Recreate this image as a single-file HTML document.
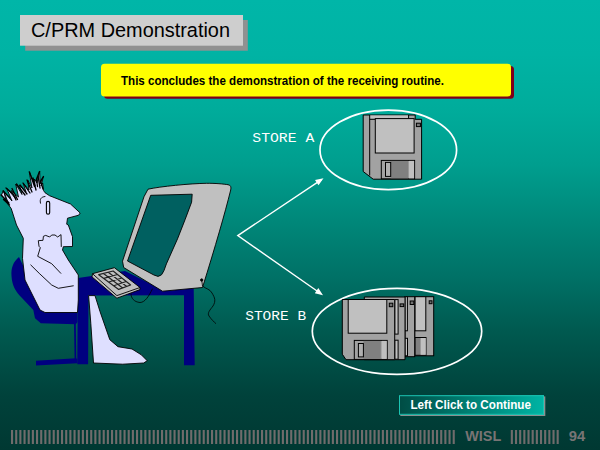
<!DOCTYPE html>
<html><head><meta charset="utf-8">
<style>
html,body{margin:0;padding:0;}
body{width:600px;height:450px;overflow:hidden;background:linear-gradient(to bottom,rgb(0,182,168) 0%,rgb(0,179,164) 12%,rgb(0,172,155) 24.4%,rgb(0,158,142) 36.7%,rgb(0,134,120) 50%,rgb(0,114,103) 61%,rgb(0,90,80) 73.3%,rgb(0,66,59) 87.8%,rgb(0,56,50) 100%);font-family:"Liberation Sans",sans-serif;position:relative;}
svg{position:absolute;left:0;top:0;}
text{font-family:"Liberation Sans",sans-serif;}
.mono{font-family:"Liberation Mono",monospace;}
</style></head><body>
<svg width="600" height="450" viewBox="0 0 600 450">
<defs>
<linearGradient id="btn" x1="0" y1="0" x2="1" y2="0"><stop offset="0" stop-color="#004c44"/><stop offset="1" stop-color="#00b4a4"/></linearGradient>
</defs>
<!-- title -->
<rect x="25.200" y="20" width="222.600" height="30.700" fill="#919191"/>
<rect x="20" y="15" width="223" height="30.700" fill="#cecece"/>
<text x="31" y="36.700" font-size="20.500" fill="#000" textLength="199" lengthAdjust="spacingAndGlyphs">C/PRM Demonstration</text>
<!-- yellow -->
<rect x="104" y="66.100" width="410" height="32.700" rx="3.500" fill="#800018"/>
<rect x="101" y="63.800" width="410" height="32.700" rx="3.500" fill="#ffff00"/>
<text x="121" y="85" font-size="12" font-weight="bold" fill="#000" textLength="323" lengthAdjust="spacingAndGlyphs">This concludes the demonstration of the receiving routine.</text>
<!-- labels -->
<text class="mono" x="252.300" y="141.500" font-size="11.900" fill="#fff" textLength="62" lengthAdjust="spacingAndGlyphs">STORE A</text>
<text class="mono" x="245.200" y="319.500" font-size="11.900" fill="#fff" textLength="61" lengthAdjust="spacingAndGlyphs">STORE B</text>
<!-- ellipses -->
<ellipse cx="388.300" cy="149.900" rx="68.300" ry="39.800" fill="none" stroke="#fff" stroke-width="1.700"/>
<ellipse cx="397" cy="331.300" rx="84.700" ry="43" fill="none" stroke="#fff" stroke-width="1.700"/>
<!-- arrows -->
<path d="M321.500 179.600 L237.800 235.600 L321 293.800" stroke="#fff" stroke-width="1.400" fill="none"/>
<path d="M323.500 178.300 L315 180 L318.500 185.300 Z M323 295.200 L314.800 293.200 L318.300 288 Z" fill="#fff"/>

<!-- floppy A -->
<g stroke="#000" stroke-width="1" stroke-linejoin="miter">
<path d="M363.200 115 H415.200 V119.300 H421.600 V179.200 H373.200 L363.200 171.500 Z" fill="#a2a2a2"/>
<rect x="369.700" y="115.400" width="38.600" height="3.300" fill="#c0c0c0" stroke="none"/>
<path d="M369.700 115 V175.500 M369.700 119.300 H375.300 M408.600 115 V118.500" fill="none"/>
<rect x="375.300" y="118.600" width="38.800" height="34.400" fill="#c0c0c0"/>
<rect x="416.400" y="123.200" width="4" height="3.400" fill="#787878"/>
<rect x="381.300" y="160.400" width="33.300" height="18.400" fill="#a2a2a2"/>
<rect x="390.500" y="160.900" width="17.800" height="17.400" fill="#808080" stroke="none"/>
<rect x="409" y="160.900" width="5.100" height="17.400" fill="#c0c0c0" stroke="none"/>
<rect x="385.500" y="162.400" width="5.200" height="14" fill="#b0b0b0"/>
</g>

<!-- floppies B -->
<g stroke="#000" stroke-width="1" stroke-linejoin="miter">
<!-- 4 -->
<rect x="414.700" y="296.700" width="19" height="59.100" fill="#a2a2a2"/>
<rect x="415" y="296.700" width="10.800" height="34.100" fill="#c0c0c0"/>
<rect x="429.200" y="300.800" width="2.800" height="2.900" fill="#707070"/>
<rect x="415" y="337.500" width="11" height="17.800" fill="#808080"/>
<rect x="420.600" y="338" width="5.200" height="16.800" fill="#c0c0c0" stroke="none"/>
<!-- 3 -->
<rect x="405" y="296.700" width="9.700" height="60" fill="#a2a2a2"/>
<rect x="405" y="296.700" width="2.400" height="34.100" fill="#c0c0c0"/>
<rect x="410.200" y="301" width="3.600" height="3.500" fill="#707070"/>
<rect x="405" y="338.300" width="2.500" height="17.500" fill="#c0c0c0"/>
<!-- 2 -->
<path d="M364.300 297 H405 V359.700 H364.300 Z" fill="#a2a2a2"/>
<rect x="394.800" y="299.600" width="3.300" height="34.500" fill="#c0c0c0"/>
<rect x="400.100" y="303.900" width="3.600" height="2.700" fill="#707070"/>
<rect x="394.800" y="340.200" width="3.300" height="19" fill="#c0c0c0"/>
<!-- 1 -->
<path d="M342.300 299.500 H394.700 V359.700 H346 L342.300 354.200 Z" fill="#a2a2a2"/>
<rect x="348.200" y="299.500" width="38.600" height="33.700" fill="#c0c0c0"/>
<rect x="389.300" y="303.200" width="3.500" height="3.500" fill="#707070"/>
<rect x="354.300" y="340.400" width="32.900" height="19" fill="#a2a2a2"/>
<rect x="363.400" y="340.900" width="17.400" height="18" fill="#808080" stroke="none"/>
<rect x="381.800" y="340.900" width="4.900" height="18" fill="#c0c0c0" stroke="none"/>
<rect x="358.400" y="343.500" width="5" height="13.400" fill="#b0b0b0"/>
</g>

<!-- chair -->
<g fill="#000080" stroke="none">
<path d="M19 257 C13 262 11 268 11.500 276 C12 286 16 292 22 298 L33.300 310 L35 318.300 L40.800 323.300 L75.800 324.300 L77.500 322 L77.500 312 L40 305 L30 280 Z"/>
<path d="M74 323.500 L75.800 323.500 L76.200 359 L74.600 359 Z"/>
<path d="M36 360.700 L76 358.200 L77.300 359 L77.300 363.200 L36 365.400 Z"/>
<!-- desk -->
<path d="M78 278 L95 275.500 L125 271 L165 291 L193.700 287.500 L194.700 365.200 L184 365.200 L184 295.300 L88.500 295.500 L88.100 364.200 L77.300 364.200 Z"/>
</g>

<!-- person -->
<g stroke="#000" stroke-width="0.900" stroke-linejoin="round" fill="#dedfff">
<!-- body+head -->
<path d="M1.500 195 L3.500 190.500 L6.700 202.500 L11.200 208.500 L16.500 225 L23.300 238.300 L22.500 258.300 L25 280 L35 300 L40 310 L45 312.500 L77.500 312.500 L78.300 300 L78.300 275 L68.300 260 L62.500 250 L63.300 246.700 L72.500 246.500 L72.500 236.700 L68.300 225 L66.700 224.200 L67.500 218.200 L78.700 215.200 L80.200 213 L70.500 204 L49.500 195.700 L45 192.700 L43.500 190.500 L42.700 183 L41 186 L43.500 176.200 L40 184 L39.700 171 L37 183 L34.500 179 L35 186 L29.200 171.700 L32 188 L27.700 180 L29 190 L23.200 183 L26 192 L19.500 185 L22 194.500 L15.700 184 L18.500 197 L11.200 190.500 L16 199 L6.700 188.200 L12 201 L3.700 191.200 L8.500 203.500 Z"/>
<!-- leg -->
<path d="M88.600 295.600 L95 295.600 L100 311.500 L109.800 339.700 L118 346.700 L132 349 L141.300 354.800 L147.200 360.700 L143.700 363 L122.700 364.200 L93.500 363 L90.800 323.300 Z"/>
</g>
<g stroke="#000" stroke-width="0.900" fill="none" stroke-linejoin="round" stroke-linecap="round">
<path d="M61.300 246.500 L61 234.600 L57.700 237 L55 235 L51.700 235 L49.700 237 L45.700 235.400 L43.400 236.300 L43 240.300 L38.300 240.700 L39 246.300 L40.300 247.700 L37.700 256.300 L51.700 263.700 L60.800 273.300"/>
<path d="M30.800 265 L39.200 273.300 L51.700 285 L58.300 288.300 L73.300 285.800"/>
<rect x="46.400" y="201.400" width="3.300" height="12.800" rx="1.650" stroke-width="1.100"/>
<path d="M40.500 203.200 C39.500 199 41 197 45 196.500"/>
</g>

<g stroke="#000" stroke-width="1.300" fill="none" stroke-linecap="round" stroke-linejoin="round">
<path d="M29.500 172 L34.500 186.500 M39.500 171.500 L36.500 179 L37.500 186.500 M43.500 176.500 L40.500 181 L43 189 M27 180 L32 192 M23 183 L30 193 M20 185 L27 194 M16.500 184 L25 195 M12 188.500 L17.500 199.500 M6 188 L13 194 L16 200 M3 191 L10 198 M1 195 L9 203 M3.500 199.500 L9.500 205 M33 178 L36 190 M38 176 L40 188"/>
</g>
<!-- monitor -->
<g stroke="#000" stroke-width="0.900" stroke-linejoin="round">
<path d="M148 189.200 C160 186.500 190 183.500 206.700 183.300 C215 183.200 224 184 228 184.700 C230.500 185 231.500 187 230.700 190 Q222 225 202.500 287.500 L162.500 291.200 L123.700 267.500 L122.500 261.200 L144 196.700 Z" fill="#c0c0c0"/>
<path d="M150.700 195.300 L192.200 194.200 L191.600 202.200 Q185.500 219 177.500 238.900 L166.400 263.900 L164 270.500 Q162 276.200 158 276.400 L153.900 275 L127.500 261 Z" fill="#006060"/>
<!-- keyboard -->
<path d="M92.500 273.700 L114.400 267.700 L140 287.500 L140 289.600 L116.900 298.200 L92 276.900 Z" fill="#c0c0c0"/>
<path d="M92.500 273.700 L116.900 295.600 L140 287.500" fill="none"/>
<path d="M98.700 274.700 L113.100 271 L130.600 285 L118.700 289.400 Z M103.700 278.400 L117.500 274.500 M108.700 282 L121.900 278 M113.700 285.700 L126.200 281.500 M103.500 273.500 L122.700 288 M108.300 272.200 L126.700 286.500" fill="none" stroke-width="1.200" stroke="#222"/>
</g>
<g stroke="#000" stroke-width="0.800" fill="none">
<path d="M131 293.700 C131 298 134 302 140 302.500 C145 302.500 149 296 152.500 288.700"/>
<path d="M201.700 280 L202.500 286 C206 289 210 289 212 293 C215 298 216 301 213 306 C210 310 207 313 209 316 C211 319 214 322 216 323.700"/>
<circle cx="201.700" cy="280" r="1.200" fill="#000"/>
</g>

<!-- button -->
<rect x="400.300" y="396.400" width="145" height="19.600" fill="#8a9090"/>
<rect x="399" y="395.200" width="145" height="19.600" fill="url(#btn)"/>
<rect x="399.500" y="395.700" width="144" height="18.600" fill="none" stroke="#1cc4b2" stroke-width="1"/>
<text x="410.400" y="408.800" font-size="12" font-weight="bold" fill="#fff" textLength="120.500" lengthAdjust="spacingAndGlyphs">Left Click to Continue</text>
<!-- bottom -->
<g fill="#706c6c"><rect x="11.00" y="430" width="2.1" height="14"/><rect x="15.17" y="430" width="2.1" height="14"/><rect x="19.33" y="430" width="2.1" height="14"/><rect x="23.50" y="430" width="2.1" height="14"/><rect x="27.67" y="430" width="2.1" height="14"/><rect x="31.83" y="430" width="2.1" height="14"/><rect x="36.00" y="430" width="2.1" height="14"/><rect x="40.17" y="430" width="2.1" height="14"/><rect x="44.33" y="430" width="2.1" height="14"/><rect x="48.50" y="430" width="2.1" height="14"/><rect x="52.67" y="430" width="2.1" height="14"/><rect x="56.83" y="430" width="2.1" height="14"/><rect x="61.00" y="430" width="2.1" height="14"/><rect x="65.17" y="430" width="2.1" height="14"/><rect x="69.33" y="430" width="2.1" height="14"/><rect x="73.50" y="430" width="2.1" height="14"/><rect x="77.67" y="430" width="2.1" height="14"/><rect x="81.83" y="430" width="2.1" height="14"/><rect x="86.00" y="430" width="2.1" height="14"/><rect x="90.17" y="430" width="2.1" height="14"/><rect x="94.33" y="430" width="2.1" height="14"/><rect x="98.50" y="430" width="2.1" height="14"/><rect x="102.67" y="430" width="2.1" height="14"/><rect x="106.83" y="430" width="2.1" height="14"/><rect x="111.00" y="430" width="2.1" height="14"/><rect x="115.17" y="430" width="2.1" height="14"/><rect x="119.33" y="430" width="2.1" height="14"/><rect x="123.50" y="430" width="2.1" height="14"/><rect x="127.67" y="430" width="2.1" height="14"/><rect x="131.83" y="430" width="2.1" height="14"/><rect x="136.00" y="430" width="2.1" height="14"/><rect x="140.17" y="430" width="2.1" height="14"/><rect x="144.33" y="430" width="2.1" height="14"/><rect x="148.50" y="430" width="2.1" height="14"/><rect x="152.67" y="430" width="2.1" height="14"/><rect x="156.83" y="430" width="2.1" height="14"/><rect x="161.00" y="430" width="2.1" height="14"/><rect x="165.17" y="430" width="2.1" height="14"/><rect x="169.33" y="430" width="2.1" height="14"/><rect x="173.50" y="430" width="2.1" height="14"/><rect x="177.67" y="430" width="2.1" height="14"/><rect x="181.83" y="430" width="2.1" height="14"/><rect x="186.00" y="430" width="2.1" height="14"/><rect x="190.17" y="430" width="2.1" height="14"/><rect x="194.33" y="430" width="2.1" height="14"/><rect x="198.50" y="430" width="2.1" height="14"/><rect x="202.67" y="430" width="2.1" height="14"/><rect x="206.83" y="430" width="2.1" height="14"/><rect x="211.00" y="430" width="2.1" height="14"/><rect x="215.17" y="430" width="2.1" height="14"/><rect x="219.33" y="430" width="2.1" height="14"/><rect x="223.50" y="430" width="2.1" height="14"/><rect x="227.67" y="430" width="2.1" height="14"/><rect x="231.83" y="430" width="2.1" height="14"/><rect x="236.00" y="430" width="2.1" height="14"/><rect x="240.17" y="430" width="2.1" height="14"/><rect x="244.33" y="430" width="2.1" height="14"/><rect x="248.50" y="430" width="2.1" height="14"/><rect x="252.67" y="430" width="2.1" height="14"/><rect x="256.83" y="430" width="2.1" height="14"/><rect x="261.00" y="430" width="2.1" height="14"/><rect x="265.17" y="430" width="2.1" height="14"/><rect x="269.33" y="430" width="2.1" height="14"/><rect x="273.50" y="430" width="2.1" height="14"/><rect x="277.67" y="430" width="2.1" height="14"/><rect x="281.83" y="430" width="2.1" height="14"/><rect x="286.00" y="430" width="2.1" height="14"/><rect x="290.17" y="430" width="2.1" height="14"/><rect x="294.33" y="430" width="2.1" height="14"/><rect x="298.50" y="430" width="2.1" height="14"/><rect x="302.67" y="430" width="2.1" height="14"/><rect x="306.83" y="430" width="2.1" height="14"/><rect x="311.00" y="430" width="2.1" height="14"/><rect x="315.17" y="430" width="2.1" height="14"/><rect x="319.33" y="430" width="2.1" height="14"/><rect x="323.50" y="430" width="2.1" height="14"/><rect x="327.67" y="430" width="2.1" height="14"/><rect x="331.83" y="430" width="2.1" height="14"/><rect x="336.00" y="430" width="2.1" height="14"/><rect x="340.17" y="430" width="2.1" height="14"/><rect x="344.33" y="430" width="2.1" height="14"/><rect x="348.50" y="430" width="2.1" height="14"/><rect x="352.67" y="430" width="2.1" height="14"/><rect x="356.83" y="430" width="2.1" height="14"/><rect x="361.00" y="430" width="2.1" height="14"/><rect x="365.17" y="430" width="2.1" height="14"/><rect x="369.33" y="430" width="2.1" height="14"/><rect x="373.50" y="430" width="2.1" height="14"/><rect x="377.67" y="430" width="2.1" height="14"/><rect x="381.83" y="430" width="2.1" height="14"/><rect x="386.00" y="430" width="2.1" height="14"/><rect x="390.17" y="430" width="2.1" height="14"/><rect x="394.33" y="430" width="2.1" height="14"/><rect x="398.50" y="430" width="2.1" height="14"/><rect x="402.67" y="430" width="2.1" height="14"/><rect x="406.83" y="430" width="2.1" height="14"/><rect x="411.00" y="430" width="2.1" height="14"/><rect x="415.17" y="430" width="2.1" height="14"/><rect x="419.33" y="430" width="2.1" height="14"/><rect x="423.50" y="430" width="2.1" height="14"/><rect x="427.67" y="430" width="2.1" height="14"/><rect x="431.83" y="430" width="2.1" height="14"/><rect x="436.00" y="430" width="2.1" height="14"/><rect x="440.17" y="430" width="2.1" height="14"/><rect x="444.33" y="430" width="2.1" height="14"/><rect x="448.50" y="430" width="2.1" height="14"/><rect x="452.67" y="430" width="2.1" height="14"/><rect x="510.80" y="430" width="2.1" height="14"/><rect x="514.97" y="430" width="2.1" height="14"/><rect x="519.13" y="430" width="2.1" height="14"/><rect x="523.30" y="430" width="2.1" height="14"/><rect x="527.47" y="430" width="2.1" height="14"/><rect x="531.63" y="430" width="2.1" height="14"/><rect x="535.80" y="430" width="2.1" height="14"/><rect x="539.97" y="430" width="2.1" height="14"/><rect x="544.13" y="430" width="2.1" height="14"/><rect x="548.30" y="430" width="2.1" height="14"/><rect x="552.47" y="430" width="2.1" height="14"/><rect x="556.63" y="430" width="2.1" height="14"/></g>
<text x="465.200" y="440.600" font-size="14" font-weight="bold" fill="#787474" textLength="36" lengthAdjust="spacingAndGlyphs">WISL</text>
<text x="568.800" y="440.600" font-size="14" font-weight="bold" fill="#787474" textLength="16.500" lengthAdjust="spacingAndGlyphs">94</text>
</svg>
</body></html>
